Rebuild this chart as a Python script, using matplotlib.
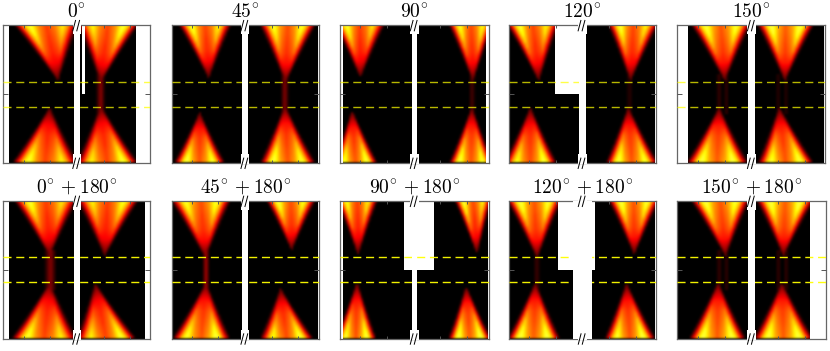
import numpy as np
import matplotlib
matplotlib.use("Agg")
import matplotlib.pyplot as plt
from matplotlib.patches import Rectangle

plt.rcParams['mathtext.fontset'] = 'cm'

# panel x/y units are a third of a pixel, frame height is always 413
H = 413
CELL = 6
DASH_Y = [169, 244]

titles = [r'$0^{\!\circ}$', r'$45^{\!\circ}$', r'$90^{\!\circ}$', r'$120^{\!\circ}$', r'$150^{\!\circ}$',
          r'$0^{\!\circ} + 180^{\!\circ}$', r'$45^{\!\circ} + 180^{\!\circ}$', r'$90^{\!\circ} + 180^{\!\circ}$',
          r'$120^{\!\circ} + 180^{\!\circ}$', r'$150^{\!\circ} + 180^{\!\circ}$']

# crop origin of each panel and frame limits
x_origin = [0, 165, 330, 495, 660, 0, 165, 330, 495, 660]
frame_l = [10, 20, 31, 41, 52, 10, 20, 31, 41, 52]
frame_r = [451, 463, 476, 484, 495, 451, 463, 476, 483, 497]
image_l = [27, 23, 38, 44, 83, 27, 23, 38, 44, 52]
image_r = [408, 460, 468, 480, 493, 436, 460, 473, 481, 451]
gap_l = [222, 232, 245, 252, 265, 222, 232, 245, 235, 265]
gap_r = [240, 249, 262, 272, 285, 240, 249, 262, 290, 285]
gap_block = [True, True, True, True, True, True, True, True, False, True]
tick_mid = [231, 240, 251, 262, 275, 231, 240, 251, 262, 275]

# white areas with no data: x0, x1, y0, y1
missing = [[(245, 255, 0, 207)], [], [], [(181, 270, 0, 207)], [],
           [], [], [(222, 312, 0, 207)], [(190, 300, 0, 207)], []]

# intensity of a lobe, rows from apex to outer edge, columns across the lobe
lobe_rows = [0.0, 0.12, 0.3, 0.5, 0.7, 0.85, 1.0]
lobe_cols = [-1.08, -0.95, -0.85, -0.72, -0.55, -0.3, 0, 0.3, 0.55, 0.72, 0.85, 0.95, 1.08]
lobe_table = [
    [0, 0.01, 0.03, 0.06, 0.09, 0.12, 0.14, 0.12, 0.09, 0.06, 0.03, 0.01, 0],
    [0, 0.02, 0.06, 0.12, 0.18, 0.23, 0.25, 0.23, 0.18, 0.12, 0.06, 0.02, 0],
    [0, 0.04, 0.14, 0.28, 0.38, 0.40, 0.40, 0.40, 0.38, 0.28, 0.14, 0.04, 0],
    [0, 0.08, 0.24, 0.42, 0.55, 0.50, 0.45, 0.50, 0.55, 0.42, 0.24, 0.08, 0],
    [0, 0.13, 0.34, 0.55, 0.70, 0.56, 0.47, 0.56, 0.70, 0.55, 0.34, 0.13, 0],
    [0, 0.20, 0.42, 0.64, 0.80, 0.60, 0.49, 0.60, 0.80, 0.64, 0.42, 0.20, 0],
    [0, 0.30, 0.50, 0.72, 0.86, 0.64, 0.50, 0.64, 0.86, 0.72, 0.50, 0.30, 0],
]
LOBE_MAX = 0.8

# lobes: left edge, right edge, apex x, apex y, left gain, right gain
top_left = [(55, 225, 175, 164, 1.0, 0.82), (50, 188, 130, 156, 1.0, 0.85), (25, 155, 92, 154, 1.0, 0.8),
            (45, 180, 130, 164, 1.0, 0.85), (105, 262, 195, 164, 1.0, 0.95), (55, 222, 150, 162, 1.0, 0.8),
            (28, 185, 120, 167, 0.95, 0.95), (30, 135, 85, 157, 0.95, 0.85), (45, 188, 125, 167, 1.0, 0.95),
            (105, 258, 197, 162, 1.0, 0.95)]
top_right = [(245, 405, 303, 169, 0.85, 1.0), (293, 440, 360, 169, 0.95, 0.95), (365, 480, 428, 164, 0.95, 0.9),
             (347, 478, 405, 164, 1.0, 0.85), (303, 452, 375, 164, 1.0, 1.0), (243, 405, 315, 162, 0.85, 0.95),
             (312, 440, 378, 144, 1.0, 0.9), (382, 475, 440, 154, 1.0, 0.85), (348, 480, 415, 157, 1.0, 0.95),
             (300, 450, 370, 162, 1.0, 1.0)]
bot_left = [(48, 225, 150, 249, 1.0, 0.85), (35, 170, 103, 264, 1.0, 0.95), (20, 135, 67, 259, 0.95, 1.0),
            (35, 175, 105, 249, 0.9, 1.0), (90, 255, 178, 249, 1.0, 1.0), (45, 222, 150, 247, 1.0, 0.85),
            (30, 185, 122, 247, 0.95, 1.0), (25, 132, 82, 247, 0.95, 1.0), (45, 185, 120, 247, 1.0, 1.0),
            (97, 248, 175, 247, 1.0, 1.0)]
bot_right = [(240, 405, 303, 244, 0.85, 1.0), (293, 440, 358, 244, 1.0, 0.95), (365, 480, 425, 249, 1.0, 0.95),
             (340, 478, 398, 249, 1.0, 0.95), (303, 452, 358, 249, 0.95, 1.0), (240, 400, 287, 249, 0.85, 1.0),
             (292, 435, 345, 264, 0.9, 1.0), (362, 475, 408, 259, 1.0, 1.0), (335, 470, 392, 249, 0.95, 1.0),
             (290, 450, 365, 247, 1.0, 1.0)]

# faint links between lobes: x, half width, intensity
necks = [[(303, 14, 0.2)], [(358, 12, 0.2)], [(425, 10, 0.1)], [(402, 10, 0.05)],
         [(178, 8, 0.07), (200, 8, 0.07), (355, 8, 0.05), (378, 8, 0.05)],
         [(152, 18, 0.2)], [(122, 12, 0.22)], [], [(124, 10, 0.08)],
         [(178, 8, 0.07), (200, 8, 0.07), (355, 8, 0.07), (378, 8, 0.07)]]


def add_lobe(img, xs, ys, lobe, edge_y):
    left, right, apex_x, apex_y, gain_l, gain_r = lobe
    table = np.array(lobe_table)
    for r, y in enumerate(ys):
        t = (y - apex_y) / (edge_y - apex_y)
        if t < 0 or t > 1:
            continue
        profile = [np.interp(t, lobe_rows, table[:, c]) for c in range(len(lobe_cols))]
        x0 = apex_x + t * (left - apex_x) - 4
        x1 = apex_x + t * (right - apex_x) + 4
        u = 2 * (xs - x0) / (x1 - x0) - 1
        vals = np.interp(u, lobe_cols, profile, left=0, right=0)
        gain = gain_l + (u + 1) / 2 * (gain_r - gain_l)
        img[r] = np.maximum(img[r], np.minimum(vals * gain, LOBE_MAX))


def add_neck(img, xs, ys, x, half, value):
    for r, y in enumerate(ys):
        if 150 <= y <= 265:
            img[r] = np.maximum(img[r], np.interp(xs, [x - half, x, x + half], [0, value, 0]))


# hot starts slightly above black, the empty cells have to be pure black
cmap = plt.get_cmap('hot').copy()
cmap.set_under('black')

fig = plt.figure(figsize=(8.3, 3.51), dpi=100)

for i in range(10):
    row = i // 5
    top_px = 25.3 if row == 0 else 201.0
    left_px = x_origin[i] + frame_l[i] / 3
    width_px = (frame_r[i] - frame_l[i]) / 3
    height_px = H / 3
    ax = fig.add_axes([left_px / 830, 1 - (top_px + height_px) / 351, width_px / 830, height_px / 351])

    xs = np.arange(frame_l[i], frame_r[i] + CELL, CELL)
    ys = np.arange(0, H + CELL, CELL)
    img = np.zeros((len(ys), len(xs)))
    for neck in necks[i]:
        add_neck(img, xs, ys, *neck)
    add_lobe(img, xs, ys, top_left[i], 0)
    add_lobe(img, xs, ys, top_right[i], 0)
    add_lobe(img, xs, ys, bot_left[i], H)
    add_lobe(img, xs, ys, bot_right[i], H)
    ax.imshow(img, cmap=cmap, vmin=0.004, vmax=1, aspect='auto', interpolation='bicubic', zorder=1,
              extent=(xs[0] - CELL / 2, xs[-1] + CELL / 2, ys[-1] + CELL / 2, ys[0] - CELL / 2))
    ax.set_xlim(frame_l[i], frame_r[i])
    ax.set_ylim(H, 0)

    # no data outside the image and in the white blocks
    ax.add_patch(Rectangle((frame_l[i], 0), image_l[i] - frame_l[i], H, color='white', lw=0, zorder=2))
    ax.add_patch(Rectangle((image_r[i], 0), frame_r[i] - image_r[i], H, color='white', lw=0, zorder=2))
    for x0, x1, y0, y1 in missing[i]:
        ax.add_patch(Rectangle((x0, y0), x1 - x0, y1 - y0, color='white', lw=0, zorder=2))

    for y in DASH_Y:
        ax.plot([frame_l[i], frame_r[i]], [y, y], color='yellow', alpha=0.72 if row == 0 else 0.95,
                lw=1.0, dashes=(5.8, 3.4), zorder=3)

    # axis break
    ax.add_patch(Rectangle((gap_l[i], 0), gap_r[i] - gap_l[i], H, color='white', lw=0, zorder=4))
    mid = (gap_l[i] + gap_r[i]) / 2
    if gap_block[i]:
        for y0 in (-3, H - 27):
            ax.add_patch(Rectangle((gap_l[i] - 4, y0), gap_r[i] - gap_l[i] + 8, 30, color='white', lw=0,
                                   zorder=4, clip_on=False))
    else:
        for y0 in (-3, H - 3):
            ax.add_patch(Rectangle((mid - 14, y0), 28, 6, color='white', lw=0, zorder=4, clip_on=False))
    for y in (0, H):
        for dx in (-9, 3):
            ax.plot([mid + dx - 4, mid + dx + 5], [y + 18, y - 16], color='black', lw=0.7, zorder=5,
                    clip_on=False, solid_capstyle='butt')

    ax.set_axisbelow(False)
    ax.set_xticks([tick_mid[i] + d for d in (-160, -80, 80, 160)])
    ax.set_yticks([H / 2])
    ax.tick_params(axis='x', direction='in', length=2, width=0.7, color='#555555', top=True, labelbottom=False)
    ax.tick_params(axis='y', direction='in', length=3.5, width=0.7, color='#555555', right=True, labelleft=False)
    for sp in ax.spines.values():
        sp.set_color('#666666')
        sp.set_linewidth(0.9)
    ax.set_title(titles[i], fontsize=14, pad=5.5)

fig.savefig('out.png', dpi=100)
